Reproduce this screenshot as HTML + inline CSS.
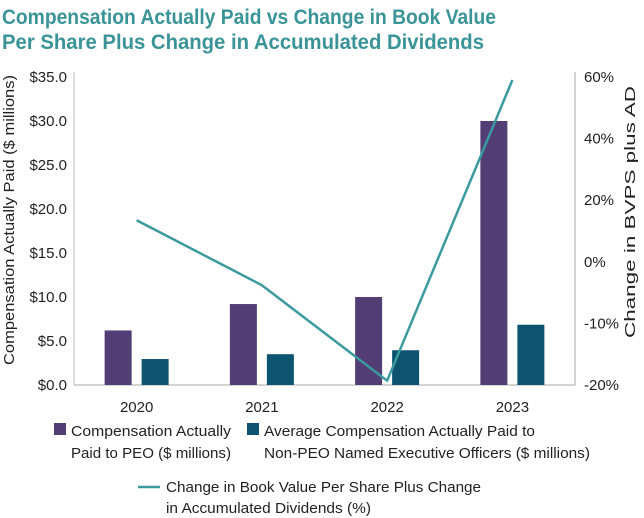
<!DOCTYPE html>
<html><head><meta charset="utf-8"><style>
html,body{margin:0;padding:0;background:#fff;}
svg{display:block;font-family:"Liberation Sans",Arial,sans-serif;}
</style></head><body>
<svg id="chart" width="644" height="518" viewBox="0 0 644 518">
<text x="2" y="24" font-size="21" font-weight="bold" fill="#3a9497" textLength="494" lengthAdjust="spacingAndGlyphs">Compensation Actually Paid vs Change in Book Value</text>
<text x="2" y="49" font-size="21" font-weight="bold" fill="#3a9497" textLength="482" lengthAdjust="spacingAndGlyphs">Per Share Plus Change in Accumulated Dividends</text>
<g id="axes"></g>
<g id="bars"></g>
<g id="line"></g>
<text transform="translate(14,220) rotate(-90)" text-anchor="middle" font-size="15" fill="#222" textLength="290" lengthAdjust="spacingAndGlyphs">Compensation Actually Paid ($ millions)</text>
<text transform="translate(635,212) rotate(-90)" text-anchor="middle" font-size="15" fill="#222" textLength="252" lengthAdjust="spacingAndGlyphs">Change in BVPS plus AD</text>
<g>
<rect x="54" y="423" width="12" height="12" fill="#523d75"/>
<text x="71" y="436" font-size="14.5" fill="#222" textLength="160" lengthAdjust="spacingAndGlyphs">Compensation Actually</text>
<text x="71" y="458" font-size="14.5" fill="#222" textLength="160" lengthAdjust="spacingAndGlyphs">Paid to PEO ($ millions)</text>
<rect x="247" y="423" width="12" height="12" fill="#0c5470"/>
<text x="264" y="436" font-size="14.5" fill="#222" textLength="271" lengthAdjust="spacingAndGlyphs">Average Compensation Actually Paid to</text>
<text x="264" y="458" font-size="14.5" fill="#222" textLength="326" lengthAdjust="spacingAndGlyphs">Non-PEO Named Executive Officers ($ millions)</text>
<line x1="138" y1="487" x2="160" y2="487" stroke="#3a9a9e" stroke-width="2.5"/>
<text x="166" y="492" font-size="14.5" fill="#222" textLength="315" lengthAdjust="spacingAndGlyphs">Change in Book Value Per Share Plus Change</text>
<text x="166" y="513" font-size="14.5" fill="#222" textLength="205" lengthAdjust="spacingAndGlyphs">in Accumulated Dividends (%)</text>
</g>
</svg>
<script>
const categories = ["2020","2021","2022","2023"];
const peoValues = [6.2, 9.2, 10.0, 30.0];
const neoValues = [2.95, 3.5, 3.95, 6.85];
const bvpsValues = [13.5, -3.8, -19.3, 59];
const leftTicks = [0, 5, 10, 15, 20, 25, 30, 35];
const leftTickLabels = ["$0.0","$5.0","$10.0","$15.0","$20.0","$25.0","$30.0","$35.0"];
const rightTicks = [-20, -10, 0, 20, 40, 60];
const rightTickLabels = ["-20%","-10%","0%","20%","40%","60%"];

const NS = "http://www.w3.org/2000/svg";
const X0 = 74, X1 = 575, Y0 = 385, Y1 = 77;
function mk(tag, attrs, parent){const e=document.createElementNS(NS,tag);for(const k in attrs)e.setAttribute(k,attrs[k]);parent.appendChild(e);return e;}
function yLeft(v){return Y0 - (v/35)*(Y0-Y1);}
function yRight(v){
  const n = rightTicks.length-1, step=(Y0-Y1)/n;
  for(let i=0;i<n;i++){
    const a=rightTicks[i], b=rightTicks[i+1];
    if(v<=b || i===n-1){return Y0 - (i + (v-a)/(b-a))*step;}
  }
}
function xCenter(i){return X0 + (X1-X0)/categories.length*(i+0.5);}

const axes=document.getElementById('axes');
let el;
el=mk('line',{x1:X0,y1:Y1-5,x2:X0,y2:Y0,stroke:'#bbb','stroke-width':1},axes);


el=mk('line',{x1:X1,y1:Y1-5,x2:X1,y2:Y0,stroke:'#aaa','stroke-width':1},axes);


el=mk('line',{x1:X0,y1:Y0,x2:X1,y2:Y0,stroke:'#aaa','stroke-width':1},axes);


leftTicks.forEach((t,i)=>{
  const tx=mk('text',{x:67,y:yLeft(t)+5,'text-anchor':'end','font-size':15,fill:'#222'},axes);
  tx.textContent=leftTickLabels[i];
  
  
});
rightTicks.forEach((t,i)=>{
  const tx=mk('text',{x:584,y:yRight(t)+5,'font-size':15,fill:'#222'},axes);
  tx.textContent=rightTickLabels[i];
  
  
});
categories.forEach((c,i)=>{
  const tx=mk('text',{x:xCenter(i),y:412,'text-anchor':'middle','font-size':15,fill:'#222'},axes);
  tx.textContent=c;
  
  
});
const bars=document.getElementById('bars');
categories.forEach((c,i)=>{
  const cx=xCenter(i);
  const b1=mk('rect',{x:cx-32,y:yLeft(peoValues[i]),width:27,height:Y0-yLeft(peoValues[i]),fill:'#523d75'},bars);
  
  
  const b2=mk('rect',{x:cx+5,y:yLeft(neoValues[i]),width:27,height:Y0-yLeft(neoValues[i]),fill:'#0c5470'},bars);
  
  
});
const pts=bvpsValues.map((v,i)=>xCenter(i)+','+yRight(v)).join(' ');
const pl=mk('polyline',{points:pts,fill:'none',stroke:'#3a9a9e','stroke-width':2.5,'stroke-linejoin':'round'},document.getElementById('line'));


</script>
</body></html>
